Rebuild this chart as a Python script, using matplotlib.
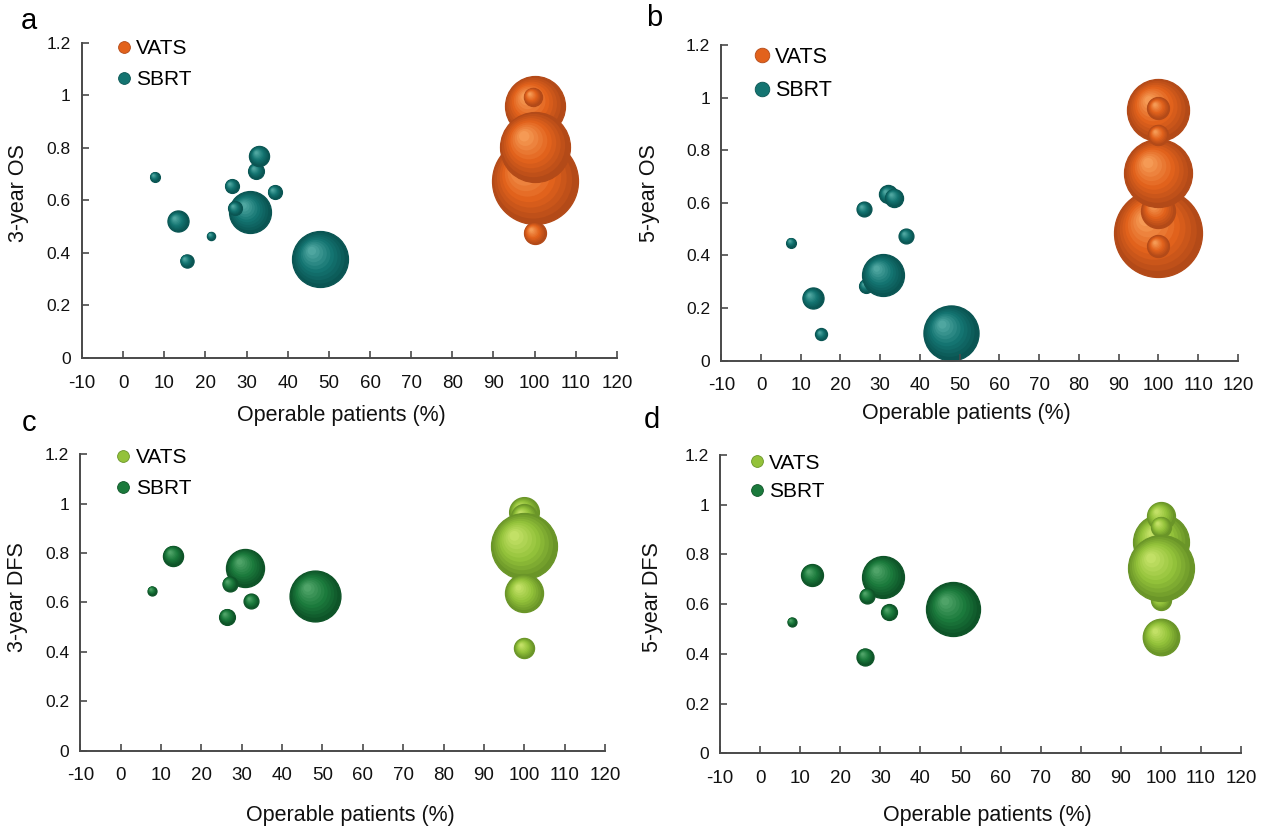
import numpy as np
import matplotlib
matplotlib.use("Agg")
import matplotlib.pyplot as plt
from matplotlib.lines import Line2D
from matplotlib.ticker import FuncFormatter
from matplotlib.colors import to_rgb

plt.rcParams['font.family'] = ['Liberation Sans', 'DejaVu Sans']
plt.rcParams['axes.unicode_minus'] = False

# ---------------- data (x = operable patients %, y = survival, n = bubble size) ---------------
x_ticks = list(range(-10, 121, 10))
y_ticks = [0, 0.2, 0.4, 0.6, 0.8, 1.0, 1.2]
series_names = ["VATS", "SBRT"]

# panel a: 3-year OS
a_sbrt_x = [7.7, 13.3, 15.4, 21.4, 26.4, 30.8, 27.2, 32.3, 33.1, 36.8, 47.9]
a_sbrt_y = [0.69, 0.52, 0.37, 0.465, 0.655, 0.556, 0.57, 0.713, 0.77, 0.632, 0.376]
a_sbrt_n = [5, 23, 9, 3.5, 10, 91, 10, 13, 21, 10, 162]
a_vats_x = [100, 100, 99.5, 100, 100]
a_vats_y = [0.674, 0.96, 0.995, 0.805, 0.475]
a_vats_n = [382, 186, 17, 253, 25]

# panel b: 5-year OS
b_sbrt_x = [7.6, 13.0, 15.2, 25.9, 26.4, 30.7, 32.0, 33.5, 36.6, 47.7]
b_sbrt_y = [0.449, 0.237, 0.10, 0.576, 0.284, 0.326, 0.632, 0.62, 0.474, 0.106]
b_sbrt_n = [5, 23, 7.5, 11.5, 10, 91, 17, 17, 11.5, 157]
b_vats_x = [100, 100, 100, 100, 100, 100, 100]
b_vats_y = [0.487, 0.57, 0.436, 0.713, 0.953, 0.96, 0.858]
b_vats_n = [400, 60, 25, 239, 199, 25, 21]

# panel c: 3-year DFS
c_sbrt_x = [7.8, 13.0, 30.9, 27.0, 26.4, 32.4, 48.2]
c_sbrt_y = [0.648, 0.79, 0.741, 0.675, 0.543, 0.606, 0.628]
c_sbrt_n = [4.2, 21, 75, 11.5, 13, 11.5, 134]
c_vats_x = [100, 100, 100, 100, 100]
c_vats_y = [0.966, 0.945, 0.83, 0.637, 0.415]
c_vats_n = [46, 35, 225, 75, 21]

# panel d: 5-year DFS
d_sbrt_x = [7.9, 12.95, 30.6, 26.7, 26.2, 32.2, 48.2]
d_sbrt_y = [0.529, 0.717, 0.71, 0.634, 0.389, 0.567, 0.579]
d_sbrt_n = [4.2, 25, 91, 11.6, 15, 13.2, 151]
d_vats_x = [100, 100, 100, 100, 100, 100]
d_vats_y = [0.85, 0.955, 0.912, 0.617, 0.745, 0.469]
d_vats_n = [162, 40.5, 20.7, 20.7, 225, 69]

# ---------------- style ----------------
DPI = 100
PX_PER_SQRT_N = 2.2
ORANGE = ["#B34A18", "#E2621C", "#F59A55"]
TEAL = ["#0A5553", "#147471", "#4FA6A0"]
LIME = ["#6A9528", "#93C23A", "#C2E066"]
DGREEN = ["#0E5428", "#1B7A3C", "#4FA368"]
AXCOL = "#4a4a4a"

fig = plt.figure(figsize=(12.71, 8.30), dpi=DPI)


def shade(stops, t):
    e, m, h = [np.array(to_rgb(c)) for c in stops]
    if t < 0.45:
        u = t / 0.45
        return tuple(e * (1 - u) + m * u)
    u = (t - 0.45) / 0.55
    return tuple(m * (1 - u) + h * u)


def draw_bubbles(ax, xs, ys, ns, stops):
    pos = ax.get_position()
    w_px = pos.width * fig.get_figwidth() * DPI
    h_px = pos.height * fig.get_figheight() * DPI
    x0, x1 = ax.get_xlim()
    y0, y1 = ax.get_ylim()
    dx = (x1 - x0) / w_px
    dy = (y1 - y0) / h_px
    L = 10
    for x, y, n in zip(xs, ys, ns):
        r = PX_PER_SQRT_N * np.sqrt(n)
        for k in range(L):
            t = k / (L - 1)
            f = 1 - 0.85 * t
            off = (1 - f) * 0.35 * r
            d_pt = 2 * r * f * 72 / DPI
            ec = shade(stops, 0.0) if k == 0 else 'none'
            ax.scatter([x - off * dx], [y + off * dy], s=d_pt ** 2,
                       color=shade(stops, t), edgecolors=ec,
                       linewidths=0.9 if k == 0 else 0, clip_on=False)


def style_axes(ax, ylabel, xlab_xy, ylab_xy):
    ax.set_xlim(-10, 120)
    ax.set_ylim(0, 1.2)
    for s in ("top", "right"):
        ax.spines[s].set_visible(False)
    for s in ("left", "bottom"):
        ax.spines[s].set_color(AXCOL)
        ax.spines[s].set_linewidth(1.4)
    ax.set_xticks(x_ticks)
    ax.set_yticks(y_ticks)
    ax.yaxis.set_major_formatter(FuncFormatter(lambda v, p: "%g" % round(v, 1)))
    ax.xaxis.set_major_formatter(FuncFormatter(lambda v, p: "%d" % v))
    ax.tick_params(axis='both', direction='in', length=5, width=1.2, color=AXCOL,
                   labelcolor='#111111')
    ax.tick_params(axis='x', labelsize=13.5, pad=12)
    ax.tick_params(axis='y', labelsize=12.5, pad=8)
    ax.set_xlabel("Operable patients (%)", fontsize=15.5, color='#111111')
    ax.set_ylabel(ylabel, fontsize=15.5, color='#111111')
    ax.xaxis.set_label_coords(*xlab_xy)
    ax.yaxis.set_label_coords(*ylab_xy)


def add_legend(ax, colors, anchor, fs, msize, spacing):
    handles = [Line2D([], [], marker='o', linestyle='none', markersize=msize,
                      markerfacecolor=c[1], markeredgecolor=c[0], markeredgewidth=0.6)
               for c in colors]
    ax.legend(handles, series_names, loc='upper left', bbox_to_anchor=anchor,
              frameon=False, fontsize=fs, handlelength=0.6, handletextpad=0.3,
              labelspacing=spacing, borderpad=0, borderaxespad=0)


panels = [
    dict(rect=[0.0645, 0.5687, 0.4209, 0.3795], letter="a", letter_xy=(0.023, 0.975),
         ylabel="3-year OS", xlab=(0.484, -0.149), ylab=(-0.099, 0.524),
         sbrt=(a_sbrt_x, a_sbrt_y, a_sbrt_n), vats=(a_vats_x, a_vats_y, a_vats_n),
         cols=(ORANGE, TEAL), leg=((0.066, 1.012), 15, 8.5, 0.58)),
    dict(rect=[0.5675, 0.5654, 0.4064, 0.3804], letter="b", letter_xy=(0.515, 0.978),
         ylabel="5-year OS", xlab=(0.474, -0.134), ylab=(-0.119, 0.531),
         sbrt=(b_sbrt_x, b_sbrt_y, b_sbrt_n), vats=(b_vats_x, b_vats_y, b_vats_n),
         cols=(ORANGE, TEAL), leg=((0.066, 0.995), 15.5, 10.5, 0.59)),
    dict(rect=[0.0632, 0.0955, 0.4128, 0.3572], letter="c", letter_xy=(0.023, 0.49),
         ylabel="3-year DFS", xlab=(0.514, -0.183), ylab=(-0.0997, 0.52),
         sbrt=(c_sbrt_x, c_sbrt_y, c_sbrt_n), vats=(c_vats_x, c_vats_y, c_vats_n),
         cols=(LIME, DGREEN), leg=((0.070, 1.02), 15, 8.5, 0.58)),
    dict(rect=[0.5666, 0.0924, 0.4098, 0.3594], letter="d", letter_xy=(0.513, 0.494),
         ylabel="5-year DFS", xlab=(0.513, -0.173), ylab=(-0.110, 0.525),
         sbrt=(d_sbrt_x, d_sbrt_y, d_sbrt_n), vats=(d_vats_x, d_vats_y, d_vats_n),
         cols=(LIME, DGREEN), leg=((0.058, 1.005), 15, 8.5, 0.45)),
]

for p in panels:
    ax = fig.add_axes(p["rect"])
    style_axes(ax, p["ylabel"], p["xlab"], p["ylab"])
    vats_c, sbrt_c = p["cols"]
    draw_bubbles(ax, *p["sbrt"], sbrt_c)
    draw_bubbles(ax, *p["vats"], vats_c)
    anchor, fs, ms, sp = p["leg"]
    add_legend(ax, [vats_c, sbrt_c], anchor, fs, ms, sp)
    fig.text(p["letter_xy"][0], p["letter_xy"][1], p["letter"], fontsize=21,
             ha='center', va='center')

fig.savefig("out.png", dpi=DPI)
